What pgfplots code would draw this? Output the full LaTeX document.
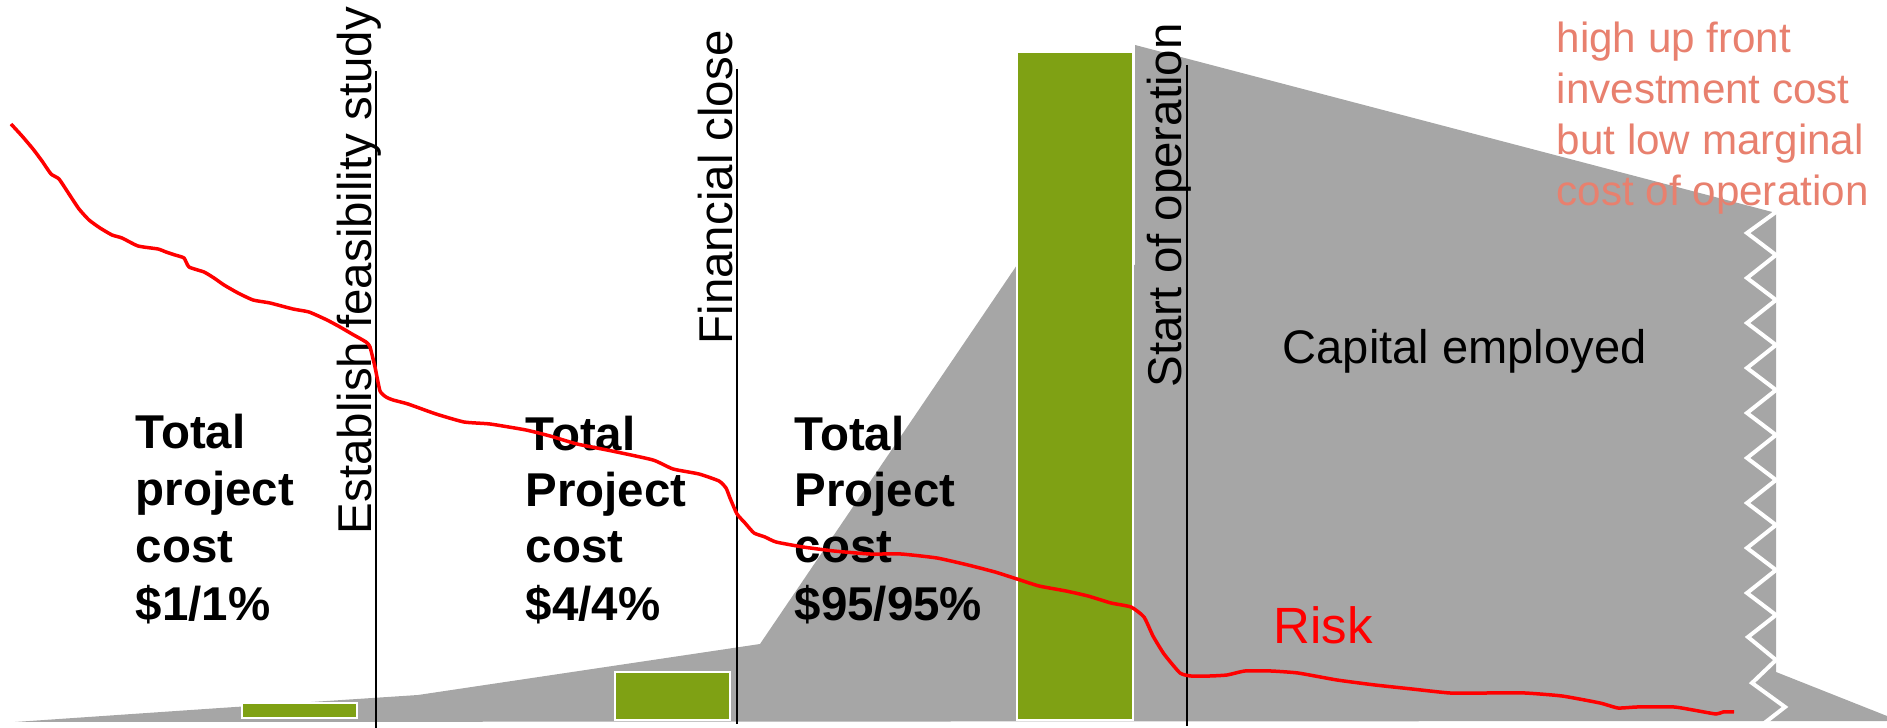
\documentclass[border=0pt]{standalone}
\usepackage{pgfplots}
\pgfplotsset{compat=1.18}
\usepackage{fontspec}
\setmainfont{Liberation Sans}
\definecolor{areagray}{RGB}{166,166,166}
\definecolor{bargreen}{RGB}{127,161,20}
\definecolor{salmon}{RGB}{232,128,110}
\begin{document}
\begin{tikzpicture}
\begin{axis}[
  width=188.7mm, height=72.8mm, scale only axis,
  xmin=0, xmax=1887, ymin=0, ymax=728, y dir=reverse,
  hide axis, clip=false]
\coordinate (A) at (axis cs:0,0);
\coordinate (B) at (axis cs:1887,728);
% capital employed area
\addplot[fill=areagray, draw=none] coordinates {
 (15,722) (220,708) (418,695) (760,644) (1017,265) (1135,265)
 (1135,45) (1776,213) (1776,672) (1887,716) (1887,721) (15,722)} -- cycle;
% zigzag break
\addplot[white, line width=0.4mm, sharp plot] coordinates {
 (1776,212) (1747,233) (1776,255) (1747,278) (1776,300) (1747,323) (1776,345)
 (1747,368) (1776,390) (1747,413) (1776,435) (1747,458) (1776,480) (1747,503)
 (1776,525) (1747,548) (1776,570) (1747,593) (1776,615) (1748,637) (1776,660)
 (1752,683) (1785,707) (1758,728)};
% cost bars
\addplot[fill=bargreen, draw=white, line width=0.25mm] coordinates {
 (242,703) (357,703) (357,718) (242,718)} -- cycle;
\addplot[fill=bargreen, draw=white, line width=0.25mm] coordinates {
 (615,672) (730,672) (730,720) (615,720)} -- cycle;
\addplot[fill=bargreen, draw=white, line width=0.25mm] coordinates {
 (1017,52) (1133,52) (1133,720) (1017,720)} -- cycle;
% milestones
\addplot[black, line width=0.2mm] coordinates {(376,71) (376,728)};
\addplot[black, line width=0.2mm] coordinates {(737,69) (737,724)};
\addplot[black, line width=0.2mm] coordinates {(1187,65) (1187,726)};
\node[rotate=90, anchor=base west, inner sep=0, font=\fontsize{13.5}{16}\selectfont] at (axis cs:371,535) {Establish feasibility study};
\node[rotate=90, anchor=base west, inner sep=0, font=\fontsize{13.5}{16}\selectfont] at (axis cs:732,345) {Financial close};
\node[rotate=90, anchor=base west, inner sep=0, font=\fontsize{13.5}{16}\selectfont] at (axis cs:1181,388) {Start of operation};
% cost texts
\tikzset{bt/.style={anchor=base west, inner sep=0, font=\bfseries\fontsize{13.5}{16}\selectfont}}
\node[bt] at (axis cs:135,449) {Total};
\node[bt] at (axis cs:135,506) {project};
\node[bt] at (axis cs:135,563) {cost};
\node[bt] at (axis cs:135,621) {\$1/1\%};
\node[bt] at (axis cs:525,451) {Total};
\node[bt] at (axis cs:525,507) {Project};
\node[bt] at (axis cs:525,563) {cost};
\node[bt] at (axis cs:525,621) {\$4/4\%};
\node[bt] at (axis cs:794,451) {Total};
\node[bt] at (axis cs:794,507) {Project};
\node[bt] at (axis cs:794,563) {cost};
\node[bt] at (axis cs:794,621) {\$95/95\%};
\node[anchor=base west, inner sep=0, font=\fontsize{13.4}{16}\selectfont] at (axis cs:1282,364) {Capital employed};
\tikzset{st/.style={anchor=base west, inner sep=0, text=salmon, font=\fontsize{12}{14}\selectfont}}
\node[st] at (axis cs:1556,53) {high up front};
\node[st] at (axis cs:1556,104) {investment cost};
\node[st] at (axis cs:1556,155) {but low marginal};
\node[st] at (axis cs:1556,206) {cost of operation};
% risk curve
\addplot[red, line width=0.35mm, smooth, tension=0.3] coordinates {
 (11,124) (22,136) (33,149) (42,161) (51,174) (59,179) (69,194) (79,209) (89,220)
 (100,228) (112,235) (122,238) (138,246) (158,249) (166,252) (175,255) (184,258)
 (189,267) (204,272) (214,278) (224,285) (238,293) (253,300) (270,303) (293,309)
 (309,312) (327,320) (340,327) (352,334) (366,342) (370,347) (375,367) (380,391)
 (386,397) (393,400) (408,404) (436,414) (464,422) (490,424) (526,430) (550,436)
 (577,444) (612,451) (653,460) (673,469) (699,474) (719,481) (726,488) (730,498)
 (737,514) (745,523) (754,533) (765,537) (776,542) (803,547) (834,551) (870,554)
 (901,554) (937,558) (968,565) (995,572) (1017,579) (1039,586) (1066,591)
 (1088,596) (1111,603) (1131,607) (1144,617) (1153,636) (1164,654) (1180,673)
 (1191,676) (1210,676) (1227,675) (1245,671) (1271,671) (1298,673) (1337,680)
 (1375,685) (1412,689) (1450,693) (1487,693) (1525,693) (1562,696) (1600,703)
 (1618,708) (1637,707) (1674,707) (1693,710) (1716,714) (1723,712) (1734,712)};
\node[anchor=base west, inner sep=0, text=red, font=\fontsize{14.5}{17}\selectfont] at (axis cs:1273,644) {Risk};
\end{axis}
\pgfresetboundingbox
\path (A) rectangle (B);
\end{tikzpicture}
\end{document}
